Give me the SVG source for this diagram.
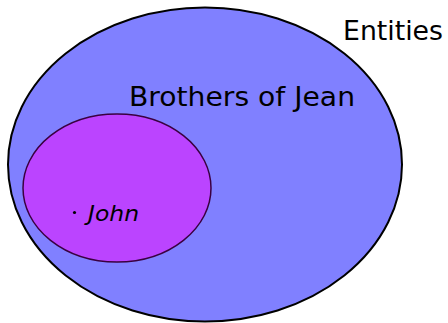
<svg xmlns="http://www.w3.org/2000/svg" width="448" height="323" viewBox="0 0 448 323">
<style>
text{font-family:"DejaVu Sans","Liberation Sans",sans-serif;fill:#000}
.lbl{font-size:26px}
</style>
<rect width="448" height="323" fill="#fff"/>
<g id="entities">
<ellipse cx="205" cy="164.5" rx="197" ry="157" fill="#8080ff" stroke="#000" stroke-width="2"/>
<text class="lbl" x="343" y="40" textLength="100" lengthAdjust="spacingAndGlyphs">Entities</text>
</g>
<g id="brothers">
<ellipse cx="117" cy="188" rx="94" ry="74" fill="#bb44ff" stroke="#3a0040" stroke-width="1.5"/>
<text class="lbl" x="129" y="106" textLength="226" lengthAdjust="spacingAndGlyphs">Brothers of Jean</text>
</g>
<g id="john">
<circle cx="74.5" cy="212.5" r="1.6" fill="#000"/>
<text x="88" y="220.5" font-size="22" font-style="italic" textLength="51" lengthAdjust="spacingAndGlyphs">John</text>
</g>
<g id="connectors"/>
</svg>
